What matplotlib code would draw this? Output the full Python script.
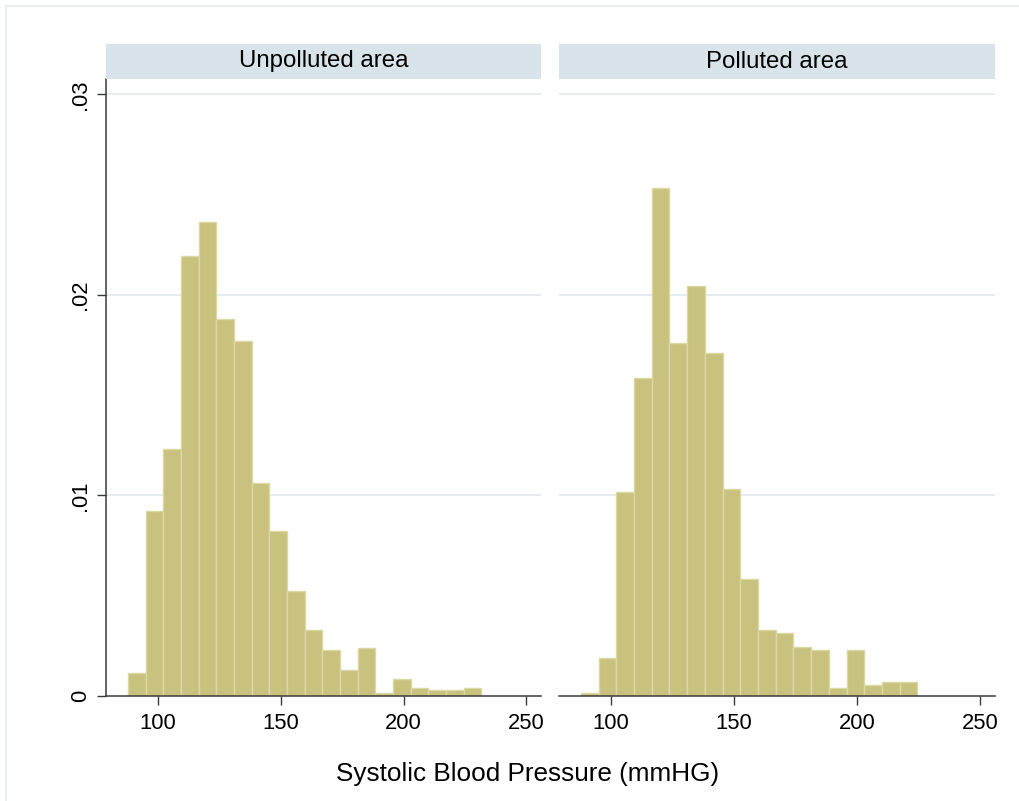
import numpy as np
import matplotlib
matplotlib.use("Agg")
import matplotlib.pyplot as plt
from matplotlib.patches import Rectangle

plt.rcParams['font.family'] = ['Liberation Sans', 'DejaVu Sans']

# Histogram bins (systolic blood pressure, mmHG)
bin_edges = [87.7, 94.9, 102.1, 109.3, 116.5, 123.7, 130.9, 138.1, 145.3, 152.5,
             159.7, 166.9, 174.1, 181.3, 188.5, 195.7, 202.9, 210.1, 217.3,
             224.5, 231.7]

# Densities
unpolluted = [0.00117, 0.00921, 0.01234, 0.02194, 0.02364, 0.01882, 0.01771,
              0.01064, 0.00823, 0.00524, 0.00328, 0.00229, 0.00130, 0.00241,
              0.00017, 0.00087, 0.00042, 0.00030, 0.00030, 0.00042]
polluted = [0.00013, 0.00191, 0.01017, 0.01584, 0.02532, 0.01760, 0.02045,
            0.01709, 0.01031, 0.00582, 0.00328, 0.00316, 0.00246, 0.00231,
            0.00042, 0.00231, 0.00055, 0.00070, 0.00070, 0.0]

panel_titles = ["Unpolluted area", "Polluted area"]
x_ticks = [100, 150, 200, 250]
y_ticks = [0, 0.01, 0.02, 0.03]
y_ticklabels = ["0", ".01", ".02", ".03"]

bar_color = '#c9c27e'
bar_edge = '#dcd8a4'
strip_color = '#d8e4ea'
grid_color = '#e3ecf0'
axis_color = '#3a3a3a'

fig = plt.figure(figsize=(10.2, 8.01), dpi=100)
fig.patch.set_facecolor('white')

# faint outer frame like the Stata graph region
fig.patches.append(Rectangle((0.0054, -0.01), 1.02, 1.0025, transform=fig.transFigure,
                             fill=False, edgecolor='#e8eff2', linewidth=1.5))

W, H = 1020.0, 801.0
ax_bottom = 1 - 696 / H
ax_height = (696 - 79) / H
strip_h = 35 / H
lefts = [106 / W, 559 / W]
widths = [(541 - 106) / W, (995 - 559) / W]

edges = np.array(bin_edges)
for i, (vals, title) in enumerate(zip([unpolluted, polluted], panel_titles)):
    ax = fig.add_axes([lefts[i], ax_bottom, widths[i], ax_height])
    ax.bar(edges[:-1], vals, width=np.diff(edges), align='edge',
           color=bar_color, edgecolor=bar_edge, linewidth=1.0, zorder=2)
    ax.set_xlim(78.8, 256)
    ax.set_ylim(0, 0.030773)
    ax.set_yticks(y_ticks)
    for yv in y_ticks[1:]:
        ax.axhline(yv, color=grid_color, linewidth=1.3, zorder=1)
    ax.set_xticks(x_ticks)
    ax.tick_params(axis='x', length=6.5, width=1.0, color=axis_color,
                   labelsize=15.8, pad=6)
    for s in ['top', 'right']:
        ax.spines[s].set_visible(False)
    ax.spines['bottom'].set_color(axis_color)
    ax.spines['bottom'].set_linewidth(1.1)
    if i == 0:
        ax.set_yticklabels(y_ticklabels, rotation=90, va='center')
        ax.tick_params(axis='y', length=6.5, width=1.0, color=axis_color,
                       labelsize=15.8, pad=4)
        ax.spines['left'].set_color(axis_color)
        ax.spines['left'].set_linewidth(1.1)
    else:
        ax.spines['left'].set_visible(False)
        ax.tick_params(axis='y', left=False, labelleft=False)

    # panel header strip
    fig.patches.append(Rectangle((lefts[i], ax_bottom + ax_height), widths[i], strip_h,
                                 transform=fig.transFigure, facecolor=strip_color,
                                 edgecolor='none'))
    fig.text(lefts[i] + widths[i] / 2, ax_bottom + ax_height + strip_h / 2, title,
             ha='center', va='center', fontsize=17.3, color='black')

fig.text(527.5 / W, 1 - 780.7 / H, "Systolic Blood Pressure (mmHG)",
         ha='center', va='baseline', fontsize=18.8, color='black')

fig.savefig("out.png", dpi=100, facecolor='white')
